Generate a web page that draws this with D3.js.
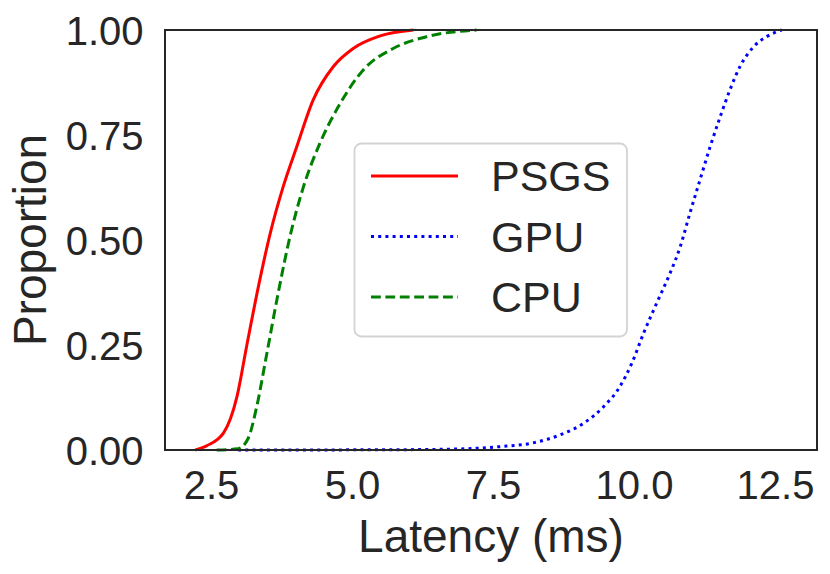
<!DOCTYPE html>
<html>
<head>
    <title>Latency CDF</title>
    <script src="https://cdnjs.cloudflare.com/ajax/libs/d3/7.8.5/d3.min.js"></script>
    <style>
    body {
        margin:0;
        background:#fff;
    }
    svg text {
        font-family:"Liberation Sans", Arial, sans-serif;
        fill:#262626;
    }
    </style>
</head>
<body>
<div class='chart'></div>
<script>

// values
var psgsLatency = [2.22, 2.42, 2.72, 2.96, 3.13, 3.34, 3.55, 3.78, 4.02, 4.31, 4.67, 5.02, 5.50, 6.09];
var psgsProp    = [0, 0.01, 0.04, 0.127, 0.246, 0.389, 0.516, 0.627, 0.722, 0.833, 0.913, 0.956, 0.986, 1.0];

var cpuLatency = [2.60, 2.98, 3.16, 3.31, 3.49, 3.69, 3.90, 4.14, 4.43, 4.79, 5.20, 5.73, 6.32, 7.21];
var cpuProp    = [0, 0.003, 0.028, 0.103, 0.23, 0.373, 0.508, 0.627, 0.730, 0.825, 0.905, 0.956, 0.984, 1.0];

var gpuLatency = [2.98, 5.50, 6.74, 7.62, 8.21, 8.69, 9.10, 9.46, 9.75, 9.96, 10.17, 10.40, 10.64, 10.82, 10.99, 11.17, 11.35, 11.53, 11.70, 11.88, 12.12, 12.35, 12.62];
var gpuProp    = [0, 0.0005, 0.002, 0.008, 0.017, 0.036, 0.063, 0.103, 0.151, 0.206, 0.278, 0.349, 0.421, 0.484, 0.563, 0.643, 0.722, 0.794, 0.857, 0.913, 0.960, 0.984, 1.0];

var xTicks = [2.5, 5.0, 7.5, 10.0, 12.5];
var yTicks = [0, 0.25, 0.5, 0.75, 1.0];

var seriesNames = ['PSGS', 'GPU', 'CPU'];

var width = 830;
var height = 574;
// plot box edges (window.top is read-only, so avoid that name)
var plotLeft = 165, plotRight = 817, plotTop = 30, plotBottom = 450;

var x = d3.scaleLinear().domain([1.684, 13.245]).range([plotLeft, plotRight]);
var y = d3.scaleLinear().domain([0, 1]).range([plotBottom, plotTop]);

var svg = d3.select('.chart').append('svg')
    .attr('width', width)
    .attr('height', height);

function zip(xs, ys) {
    return xs.map(function(v, i) { return [v, ys[i]]; });
}

var series = [
    {name: 'PSGS', points: zip(psgsLatency, psgsProp), color: '#ff0000', dash: null},
    {name: 'GPU', points: zip(gpuLatency, gpuProp), color: '#0000ff', dash: '3,4.2'},
    {name: 'CPU', points: zip(cpuLatency, cpuProp), color: '#008000', dash: '9.8,4.6'}
];

var line = d3.line()
    .x(function(d) { return x(d[0]); })
    .y(function(d) { return y(d[1]); })
    .curve(d3.curveMonotoneX);

svg.selectAll('path.curve')
    .data(series)
    .enter().append('path')
    .attr('class', 'curve')
    .attr('d', function(d) { return line(d.points); })
    .attr('fill', 'none')
    .attr('stroke', function(d) { return d.color; })
    .attr('stroke-width', 3)
    .attr('stroke-dasharray', function(d) { return d.dash; });

// axes without tick marks (seaborn white style)
var xAxis = svg.append('g')
    .attr('transform', 'translate(0,' + plotBottom + ')')
    .call(d3.axisBottom(x).tickValues(xTicks).tickSize(0).tickPadding(0).tickFormat(d3.format('.1f')));
xAxis.select('.domain').remove();
xAxis.selectAll('text')
    .attr('y', 49)
    .attr('dy', null)
    .style('font-size', '40px');

var yAxis = svg.append('g')
    .attr('transform', 'translate(' + plotLeft + ',0)')
    .call(d3.axisLeft(y).tickValues(yTicks).tickSize(0).tickPadding(0).tickFormat(d3.format('.2f')));
yAxis.select('.domain').remove();
yAxis.selectAll('text')
    .attr('x', -21.5)
    .attr('dy', '14.3px')
    .style('font-size', '40px');

// frame
svg.append('rect')
    .attr('x', plotLeft)
    .attr('y', plotTop)
    .attr('width', plotRight - plotLeft)
    .attr('height', plotBottom - plotTop)
    .attr('fill', 'none')
    .attr('stroke', '#262626')
    .attr('stroke-width', 2);

svg.append('text')
    .attr('x', (plotLeft + plotRight) / 2)
    .attr('y', 552)
    .attr('text-anchor', 'middle')
    .style('font-size', '46px')
    .text('Latency (ms)');

svg.append('text')
    .attr('transform', 'translate(46,' + (plotTop + plotBottom) / 2 + ') rotate(-90)')
    .attr('text-anchor', 'middle')
    .style('font-size', '46px')
    .text('Proportion');

// legend
var legend = svg.append('g');
legend.append('rect')
    .attr('x', 354.5)
    .attr('y', 143.5)
    .attr('width', 272.5)
    .attr('height', 193)
    .attr('rx', 7)
    .attr('fill', 'rgba(255,255,255,0.8)')
    .attr('stroke', '#d3d3d3')
    .attr('stroke-width', 1.8);

var legendOrder = seriesNames.map(function(n) {
    return series.filter(function(s) { return s.name === n; })[0];
});

var item = legend.selectAll('g.item')
    .data(legendOrder)
    .enter().append('g')
    .attr('class', 'item')
    .attr('transform', function(d, i) { return 'translate(0,' + (176 + i * 60.5) + ')'; });

item.append('line')
    .attr('x1', 371)
    .attr('x2', 458)
    .attr('stroke', function(d) { return d.color; })
    .attr('stroke-width', 3)
    .attr('stroke-dasharray', function(d) { return d.dash; });

item.append('text')
    .attr('x', 491)
    .attr('y', 15.3)
    .style('font-size', '43px')
    .text(function(d) { return d.name; });

</script>
</body>
</html>
